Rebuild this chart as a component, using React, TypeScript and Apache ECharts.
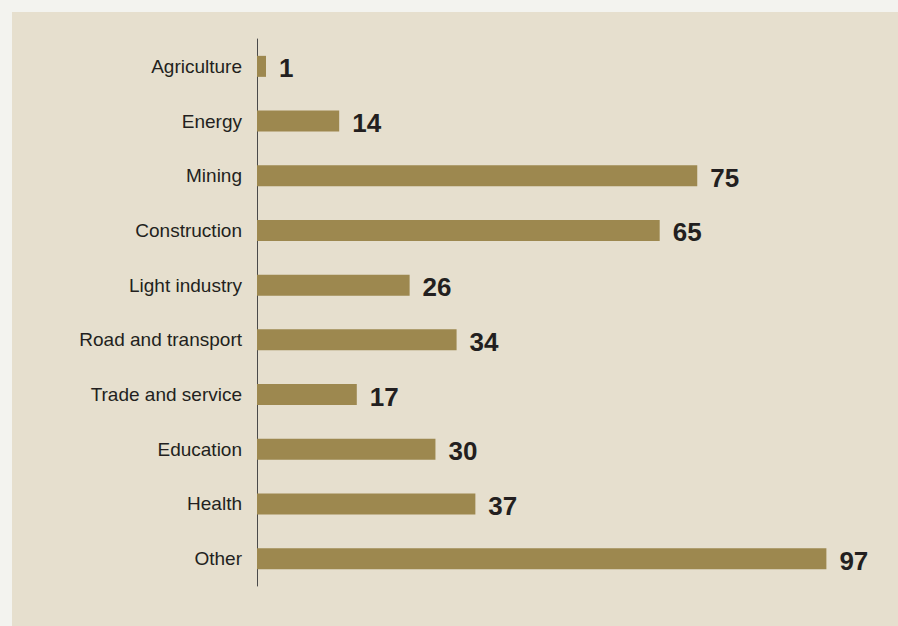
import React, { useEffect, useRef } from "react";
import * as echarts from "echarts";

const categories = [
  "Agriculture",
  "Energy",
  "Mining",
  "Construction",
  "Light industry",
  "Road and transport",
  "Trade and service",
  "Education",
  "Health",
  "Other",
];
// numbers printed beside the bars
const labelValues = [1, 14, 75, 65, 26, 34, 17, 30, 37, 97];
// bar lengths as drawn in the picture (Construction's bar is drawn longer than its label)
const barLengths = [1, 14, 75, 68.6, 26, 34, 17, 30.4, 37.2, 97];

export default function App() {
  const ref = useRef<HTMLDivElement>(null);
  useEffect(() => {
    document.body.style.margin = "0";
    const chart = echarts.init(ref.current!, null, { renderer: "svg" });
    chart.setOption({
      animation: false,
      backgroundColor: "#f3f3ef",
      graphic: [
        {
          type: "rect",
          z: -100,
          silent: true,
          shape: { x: 12, y: 12, width: 886, height: 614 },
          style: { fill: "#e6dfce" },
        },
      ],
      grid: { left: 257, top: 39, width: 587, height: 547 },
      xAxis: {
        type: "value",
        min: 0,
        max: 100,
        show: false,
      },
      yAxis: {
        type: "category",
        inverse: true,
        data: categories,
        axisTick: { show: false },
        axisLine: { show: true, lineStyle: { color: "#4a4a4a", width: 1 } },
        axisLabel: {
          margin: 15,
          fontSize: 19,
          color: "#231f20",
          fontFamily: "'Liberation Sans', Arial, Helvetica, sans-serif",
        },
      },
      series: [
        {
          type: "bar",
          data: barLengths,
          barWidth: 21,
          barMinHeight: 9,
          itemStyle: { color: "#9d884f" },
          label: {
            show: true,
            position: "right",
            distance: 13,
            offset: [0, 2],
            fontSize: 26,
            fontWeight: "bold",
            color: "#231f20",
            fontFamily: "'Liberation Sans', Arial, Helvetica, sans-serif",
            formatter: (p: any) => String(labelValues[p.dataIndex]),
          },
        },
      ],
    });
    return () => chart.dispose();
  }, []);
  return <div ref={ref} style={{ width: 898, height: 626 }} />;
}
